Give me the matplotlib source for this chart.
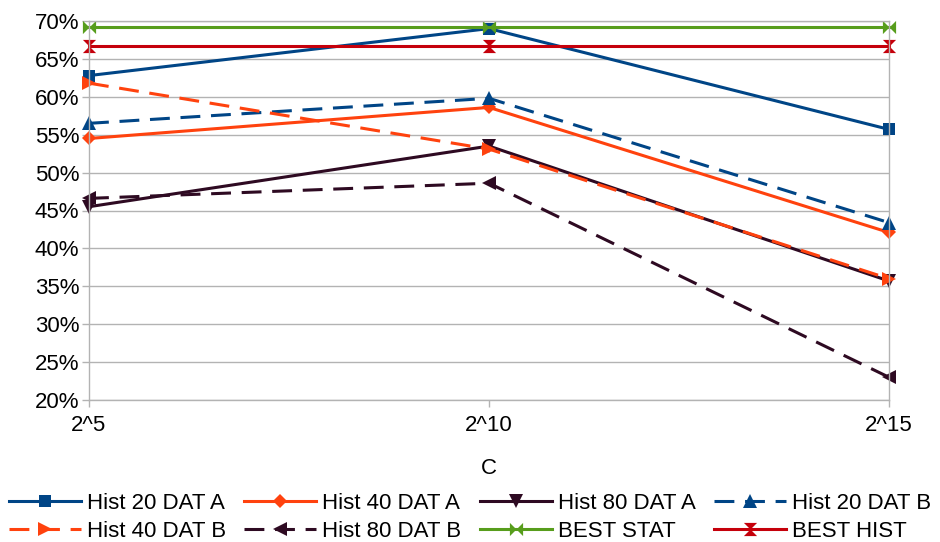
import matplotlib
matplotlib.use("Agg")
import matplotlib.pyplot as plt
from matplotlib.path import Path
from matplotlib.ticker import FuncFormatter

plt.rcParams['font.family'] = ['Liberation Sans', 'DejaVu Sans']

categories = ["2^5", "2^10", "2^15"]
hist20_a = [62.8, 69.0, 55.7]
hist40_a = [54.5, 58.6, 42.1]
hist80_a = [45.5, 53.5, 35.7]
hist20_b = [56.5, 59.8, 43.4]
hist40_b = [61.8, 53.1, 36.0]
hist80_b = [46.6, 48.6, 23.0]
best_stat = [69.2, 69.2, 69.2]
best_hist = [66.7, 66.7, 66.7]

bowtie_h = Path([(-1, -1), (1, 1), (1, -1), (-1, 1), (-1, -1)],
                [Path.MOVETO, Path.LINETO, Path.LINETO, Path.LINETO, Path.CLOSEPOLY])
bowtie_v = Path([(-1, -1), (1, -1), (-1, 1), (1, 1), (-1, -1)],
                [Path.MOVETO, Path.LINETO, Path.LINETO, Path.LINETO, Path.CLOSEPOLY])

BLUE = '#004586'
ORANGE = '#ff420e'
DARK = '#2e0a22'
GREEN = '#579d1c'
RED = '#c5000b'
dash = (0, (6.5, 3.5))

series = [
    ("Hist 20 DAT A", hist20_a, BLUE, '-', 's', 9),
    ("Hist 40 DAT A", hist40_a, ORANGE, '-', 'D', 7),
    ("Hist 80 DAT A", hist80_a, DARK, '-', 'v', 9.5),
    ("Hist 20 DAT B", hist20_b, BLUE, dash, '^', 9.5),
    ("Hist 40 DAT B", hist40_b, ORANGE, dash, '>', 9.5),
    ("Hist 80 DAT B", hist80_b, DARK, dash, '<', 9.5),
    ("BEST STAT", best_stat, GREEN, '-', bowtie_h, 9.5),
    ("BEST HIST", best_hist, RED, '-', bowtie_v, 9.5),
]

FS = 16

fig = plt.figure(figsize=(9.4, 5.42), dpi=100)
ax = fig.add_axes([89/940, 1 - 400/542, 800/940, 379/542])

x = list(range(len(categories)))
for label, vals, color, ls, mk, ms in series:
    ax.plot(x, vals, color=color, linestyle=ls, linewidth=2.2, marker=mk,
            markersize=ms, markeredgewidth=0, label=label, clip_on=False)

ax.set_xlim(0, 2)
ax.set_ylim(20, 70)
ax.set_yticks(range(20, 71, 5))
ax.yaxis.set_major_formatter(FuncFormatter(lambda v, p: f"{int(v)}%"))
ax.set_xticks(x)
ax.set_xticklabels(categories)
ax.grid(axis='y', color='#b3b3b3', linewidth=1)
ax.set_axisbelow(True)
for s in ax.spines.values():
    s.set_color('#b3b3b3')
    s.set_linewidth(1)
ax.tick_params(axis='both', colors='#b3b3b3', labelcolor='black', labelsize=FS,
               length=5, width=1)
ax.tick_params(axis='x', pad=6)
ax.tick_params(axis='y', pad=2)
ax.set_xlabel("C", fontsize=FS, labelpad=16)

handles, labels = ax.get_legend_handles_labels()
order = [0, 4, 1, 5, 2, 6, 3, 7]
leg = fig.legend([handles[i] for i in order], [labels[i] for i in order],
                 loc='lower center', bbox_to_anchor=(0.5, -0.036), ncol=4,
                 frameon=False, fontsize=FS, handlelength=3.25, handletextpad=0.27,
                 columnspacing=0.82, labelspacing=0.29)

fig.savefig("out.png", dpi=100)
